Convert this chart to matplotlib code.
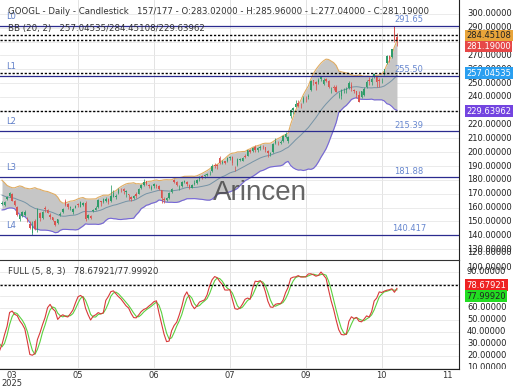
import matplotlib
matplotlib.use("Agg")
import matplotlib.pyplot as plt
import numpy as np

plt.rcParams["font.family"] = ["DejaVu Sans"]

# 预热K线(不显示), 只用来算 BB 和 KD
warm_open = [183.0, 179.5, 178.0, 175.5, 173.0, 168.5, 171.0, 166.0, 171.5, 172.0,
             172.5, 171.5, 165.5, 165.0, 166.5, 163.5, 164.5, 162.8, 161.0]
warm_high = [183.5, 180.8, 178.8, 176.0, 174.0, 171.5, 172.5, 171.5, 174.0, 174.2,
             174.5, 172.3, 167.5, 168.0, 167.3, 166.0, 165.5, 163.5, 165.0]
warm_low = [179.0, 177.6, 174.5, 170.8, 167.9, 167.0, 165.8, 165.5, 170.5, 170.8,
            171.0, 164.6, 163.0, 164.5, 162.4, 163.0, 162.5, 159.8, 160.5]
warm_close = [179.7, 179.3, 175.4, 172.7, 168.5, 170.3, 167.0, 170.9, 173.0, 172.4,
              173.9, 165.9, 164.0, 167.1, 162.8, 165.5, 164.3, 160.7, 163.9]

opens = [162.3, 162.0, 166.0, 168.5, 169.8, 164.5, 160.5, 151.5, 154.0, 154.5,
         152.0, 148.0, 141.5, 150.5, 143.5, 156.0, 152.5, 160.0, 158.5, 154.5,
         153.0, 150.0, 148.5, 154.5, 156.5, 165.0, 162.5, 159.5, 157.0, 160.0,
         162.5, 160.5, 162.0, 163.0, 152.5, 154.0, 157.5, 158.5, 160.5, 164.5,
         164.0, 164.5, 166.0, 164.5, 168.0, 168.0, 170.5, 173.0, 173.5, 171.0,
         169.5, 167.5, 167.0, 170.0, 170.0, 174.0, 176.5, 179.0, 176.0, 173.5,
         175.5, 176.5, 175.5, 172.5, 166.5, 165.5, 167.0, 171.5, 180.2, 178.5,
         175.5, 175.5, 178.5, 178.5, 176.5, 174.5, 177.0, 177.5, 180.5, 183.0,
         182.5, 183.5, 185.0, 186.5, 191.0, 191.0, 195.5, 192.5, 193.5, 193.5,
         195.5, 196.5, 189.5, 190.5, 194.5, 194.0, 197.0, 197.5, 201.5, 201.0,
         204.0, 201.5, 203.0, 204.0, 203.5, 201.0, 199.0, 200.0, 206.5, 207.5,
         206.5, 208.0, 211.0, 208.5, 226.0, 230.5, 233.0, 235.5, 234.5, 236.0,
         239.5, 240.0, 245.0, 252.0, 251.0, 251.0, 253.0, 249.5, 253.0, 251.5,
         245.5, 247.0, 247.5, 242.5, 240.5, 245.5, 245.0, 246.5, 249.0, 245.0,
         244.0, 241.5, 240.0, 241.5, 247.5, 252.0, 250.5, 254.5, 254.5, 252.0,
         252.0, 256.5, 264.5, 269.5, 269.0, 291.0, 283.02]
highs = [164.6, 164.5, 168.5, 171.0, 170.2, 165.8, 161.0, 155.0, 157.8, 158.0,
         153.5, 150.0, 150.5, 151.5, 159.5, 157.0, 157.5, 161.0, 158.9, 156.0,
         153.5, 150.5, 152.0, 157.0, 159.5, 166.0, 163.0, 161.0, 159.5, 162.0,
         163.5, 164.5, 164.0, 164.5, 155.5, 155.0, 159.0, 161.0, 166.0, 165.0,
         167.0, 167.5, 167.0, 176.0, 173.0, 169.8, 174.0, 174.5, 174.0, 172.5,
         170.0, 168.5, 169.0, 171.5, 174.0, 177.0, 181.0, 179.5, 177.0, 176.0,
         177.5, 177.0, 176.0, 173.0, 167.5, 168.0, 171.0, 174.0, 181.0, 179.0,
         176.5, 179.0, 180.0, 179.0, 177.0, 177.0, 180.0, 181.0, 182.5, 183.5,
         184.5, 185.0, 186.5, 191.5, 192.0, 191.5, 197.0, 194.5, 194.0, 196.5,
         197.5, 197.0, 190.0, 195.5, 196.0, 196.5, 198.5, 202.0, 202.5, 204.0,
         205.0, 203.5, 205.0, 205.0, 204.0, 201.5, 200.5, 207.0, 210.0, 208.5,
         209.0, 212.5, 214.5, 211.5, 231.5, 232.5, 238.0, 237.5, 235.5, 240.5,
         240.5, 242.0, 252.0, 252.5, 251.5, 253.5, 255.5, 254.0, 254.0, 252.0,
         247.5, 249.0, 248.5, 243.5, 246.0, 246.5, 247.0, 251.5, 250.5, 246.0,
         244.5, 244.5, 244.5, 247.0, 252.5, 254.5, 254.5, 257.5, 255.0, 253.5,
         253.5, 260.5, 270.0, 270.5, 275.0, 291.65, 285.96]
lows = [161.6, 161.0, 165.3, 168.0, 164.5, 161.5, 153.8, 150.5, 153.5, 154.0,
        149.8, 144.5, 140.5, 143.5, 142.5, 150.0, 151.5, 157.0, 155.8, 152.0,
        150.5, 146.5, 148.0, 154.0, 156.0, 161.5, 158.8, 158.5, 155.5, 159.5,
        160.5, 160.3, 161.0, 150.5, 151.5, 152.0, 156.5, 158.0, 160.0, 161.5,
        163.5, 164.0, 162.5, 164.0, 167.5, 166.0, 170.0, 171.5, 169.5, 167.5,
        165.5, 165.0, 166.5, 167.0, 169.5, 173.5, 175.5, 176.0, 174.5, 172.5,
        174.5, 174.5, 172.5, 163.5, 163.5, 165.0, 166.5, 170.5, 177.5, 175.5,
        173.0, 175.0, 178.0, 175.8, 173.8, 174.0, 176.5, 177.0, 179.5, 181.0,
        181.5, 182.5, 183.5, 186.0, 188.5, 188.0, 191.5, 191.5, 191.5, 193.0,
        194.5, 190.5, 186.8, 190.0, 193.5, 193.5, 195.5, 197.0, 199.5, 200.5,
        200.5, 200.0, 202.0, 202.5, 200.5, 196.8, 197.5, 199.5, 206.0, 205.5,
        206.0, 207.5, 210.5, 206.5, 224.5, 228.0, 232.5, 233.0, 232.0, 235.5,
        236.5, 238.5, 244.5, 249.0, 245.0, 249.5, 251.5, 249.0, 250.5, 246.5,
        242.5, 245.0, 243.5, 239.5, 238.5, 242.5, 243.0, 246.0, 244.0, 243.0,
        239.5, 236.0, 239.5, 240.5, 246.5, 249.0, 248.5, 253.5, 247.0, 247.5,
        250.0, 256.0, 264.0, 265.5, 268.0, 280.0, 277.04]
closes = [163.3, 164.0, 167.7, 170.6, 165.1, 162.2, 154.3, 154.6, 157.1, 157.0,
          150.7, 145.6, 146.8, 144.7, 158.7, 152.8, 157.1, 159.1, 156.3, 153.3,
          151.2, 147.7, 151.5, 155.4, 159.3, 162.0, 160.6, 160.2, 158.8, 161.3,
          162.0, 164.0, 163.2, 151.4, 154.3, 152.8, 158.5, 159.5, 165.4, 164.0,
          166.2, 166.5, 164.0, 168.6, 170.9, 168.5, 172.9, 172.4, 171.9, 171.7,
          169.0, 166.2, 168.1, 168.2, 173.7, 176.1, 178.6, 177.4, 175.7, 174.7,
          176.8, 175.9, 173.3, 166.6, 165.2, 166.8, 170.7, 173.5, 178.5, 176.2,
          175.8, 178.6, 179.5, 176.8, 174.4, 176.6, 177.6, 180.2, 181.6, 182.0,
          183.6, 184.0, 185.1, 190.1, 190.1, 190.2, 192.2, 193.2, 192.6, 195.8,
          196.5, 191.9, 189.1, 195.0, 194.7, 196.1, 196.5, 201.4, 200.3, 203.3,
          202.0, 202.9, 203.9, 203.5, 201.6, 199.3, 199.8, 206.1, 208.5, 207.1,
          207.5, 211.6, 212.9, 211.4, 230.7, 232.3, 235.0, 233.8, 234.0, 239.6,
          239.2, 240.4, 251.6, 251.2, 249.5, 252.3, 254.7, 252.5, 251.7, 247.1,
          245.8, 246.5, 243.6, 243.1, 244.9, 245.7, 245.4, 250.4, 245.8, 244.6,
          241.5, 236.6, 244.2, 245.5, 251.0, 251.5, 253.3, 256.6, 250.5, 251.7,
          252.5, 259.9, 269.3, 267.5, 274.6, 281.5, 281.19]

# 支撑/阻力线
level_names = ["L0", "L1", "L2", "L3", "L4"]
level_values = [291.65, 255.50, 215.39, 181.88, 140.417]
level_texts = ["291.65", "255.50", "215.39", "181.88", "140.417"]

# 当前指标值
bb_mid, bb_up, bb_low = 257.04535, 284.45108, 229.63962
last_close = 281.19
stoch_k_last, stoch_d_last = 78.67921, 77.99920

month_pos = [4, 30, 60, 90, 120, 150, 176]
month_lab = ["03\n2025", "05", "06", "07", "09", "10", "11"]
grid_x = [30, 60, 90, 120, 150]

title = ("GOOGL - Daily - Candlestick   157/177 - O:283.02000 - H:285.96000"
         " - L:277.04000 - C:281.19000")
bb_text = "BB (20, 2)   257.04535/284.45108/229.63962"
kd_text = "FULL (5, 8, 3)   78.67921/77.99920"

# ---------------- 计算 ----------------
hidden = len(warm_close)
o = np.array(warm_open + opens)
h = np.array(warm_high + highs)
l = np.array(warm_low + lows)
c = np.array(warm_close + closes)
n = len(c)
x = np.arange(n) - hidden

mid = np.full(n, np.nan)
up = np.full(n, np.nan)
lo = np.full(n, np.nan)
for i in range(19, n):
    seg = c[i - 19:i + 1]
    mid[i] = seg.mean()
    up[i] = seg.mean() + 2 * seg.std()
    lo[i] = seg.mean() - 2 * seg.std()

raw = np.full(n, np.nan)
for i in range(4, n):
    hh = h[i - 4:i + 1].max()
    ll = l[i - 4:i + 1].min()
    raw[i] = (c[i] - ll) / (hh - ll) * 100
k = np.full(n, np.nan)
for i in range(11, n):
    k[i] = raw[i - 7:i + 1].mean()
d = np.full(n, np.nan)
for i in range(13, n):
    d[i] = k[i - 2:i + 1].mean()

vis = x >= 0

# ---------------- 作图 ----------------
W, H = 520, 390
fig = plt.figure(figsize=(W / 100, H / 100), dpi=100)
ax = fig.add_axes([0, 130 / H, 459 / W, 260 / H])
ax2 = fig.add_axes([0, 21 / H, 459 / W, 109 / H], sharex=ax)
rax = fig.add_axes([459 / W, 130 / H, 61 / W, 260 / H])
rax2 = fig.add_axes([459 / W, 21 / H, 61 / W, 109 / H])

ylim_top = (122.1, 310.1)
ylim_bot = (8.9, 99.75)
ax.set_xlim(-0.79, 180.5)
ax.set_ylim(*ylim_top)
ax2.set_ylim(*ylim_bot)

for a in (ax, ax2):
    for s in ("left", "top", "bottom", "right"):
        a.spines[s].set_visible(False)
    a.spines["right"].set_visible(True)
    a.spines["right"].set_color("#222222")
    a.spines["right"].set_linewidth(0.8)
    a.tick_params(axis="y", left=False, right=False, labelleft=False)
    for gx in grid_x:
        a.axvline(gx, color="#dedede", lw=0.6, zorder=0)
ax2.spines["top"].set_visible(True)
ax2.spines["top"].set_color("#333333")
ax2.spines["top"].set_linewidth(0.8)
ax2.spines["bottom"].set_visible(True)
ax2.spines["bottom"].set_color("#222222")
ax2.spines["bottom"].set_linewidth(0.8)
ax.tick_params(axis="x", bottom=False, labelbottom=False)

for v in range(130, 301, 10):
    ax.axhline(v, color="#e8e8e8", lw=0.6, zorder=0)
for v in range(10, 100, 10):
    ax2.axhline(v, color="#e8e8e8", lw=0.6, zorder=0)

# 布林带
ax.fill_between(x, lo, up, color="#c6c6c6", lw=0, zorder=1)
ax.plot(x, up, color="#e0ac62", lw=0.8, zorder=2)
ax.plot(x, lo, color="#7566d8", lw=0.8, zorder=2)
ax.plot(x, mid, color="#7593a6", lw=0.7, zorder=2)

# K线
green, red = "#2f9c6a", "#d9534f"
cols = [green if cc >= oo else red for oo, cc in zip(o[vis], c[vis])]
ax.vlines(x[vis], l[vis], h[vis], colors=cols, lw=0.55, zorder=3)
body = np.maximum(np.abs(c[vis] - o[vis]), 0.3)
ax.bar(x[vis], body, bottom=np.minimum(o[vis], c[vis]), width=0.6,
       color=cols, lw=0, zorder=3)

# 水平线
for name, val, txt in zip(level_names, level_values, level_texts):
    ax.axhline(val, color="#2b2b8f", lw=0.9, zorder=4)
    ax.annotate(name, xy=(1.6, val), xytext=(0, 6.8), textcoords="offset points",
                ha="left", va="center", fontsize=6, color="#5f7fc8", zorder=5)
    ax.annotate(txt, xy=(160.7, val), xytext=(0, 4.3), textcoords="offset points",
                ha="center", va="center", fontsize=6, color="#6787cf", zorder=5)

dash = (0, (1.6, 1.3))
for v in (bb_up, last_close, bb_mid, bb_low):
    ax.axhline(v, color="black", lw=1.0, ls=dash, zorder=5)

# 随机指标
ax2.plot(x, k, color="#d83a3a", lw=0.8, zorder=3)
ax2.plot(x, d, color="#5ad040", lw=0.8, zorder=2)
ax2.axhline(stoch_k_last, color="black", lw=1.0, ls=dash, zorder=4)

ax2.set_xticks(month_pos)
ax2.set_xticklabels(month_lab, fontsize=6, color="#333333")
ax2.tick_params(axis="x", length=0, pad=1.8)
for lbl in ax2.get_xticklabels():
    lbl.set_linespacing(0.85)

# 右侧刻度
for a, lim in ((rax, ylim_top), (rax2, ylim_bot)):
    a.set_xlim(0, 1)
    a.set_ylim(*lim)
    a.axis("off")
for v in range(130, 301, 10):
    rax.text(0.13, v, f"{v:.5f}", fontsize=6, color="#222222",
             va="center", ha="left", clip_on=True)
rax.text(0.13, 124.3, "120.00000", fontsize=6, color="#222222",
         va="bottom", ha="left", clip_on=True)
for v in range(10, 100, 10):
    rax2.text(0.13, v, f"{v:.5f}", fontsize=6, color="#222222",
              va="center", ha="left", clip_on=True)
rax2.text(0.13, 97.3, "100.00000", fontsize=6, color="#222222",
          va="top", ha="left", clip_on=True)


def tag(a, y, s, fc, tc):
    a.text(0.12, y, s, fontsize=6, color=tc, va="center", ha="left", zorder=5,
           bbox=dict(boxstyle="square,pad=0.17", fc=fc, ec="none"))


box_h = 11 / 1.383
tag(rax, bb_up, f"{bb_up:.5f}", "#e8a43a", "#222222")
tag(rax, min(last_close, bb_up - box_h), f"{last_close:.5f}", "#e64848", "white")
tag(rax, bb_mid, f"{bb_mid:.5f}", "#2a9ff0", "white")
tag(rax, bb_low, f"{bb_low:.5f}", "#7344e0", "white")
tag(rax2, stoch_k_last, f"{stoch_k_last:.5f}", "#ee2222", "white")
tag(rax2, min(stoch_d_last, stoch_k_last - 11 / 1.2), f"{stoch_d_last:.5f}",
    "#22dd22", "#222222")

# 标题与水印
fig.text(8 / W, 1 - 12 / H, title, fontsize=6.2, color="#333333", va="center")
fig.text(8 / W, 1 - 29 / H, bb_text, fontsize=6.2, color="#333333", va="center")
fig.text(8 / W, 1 - 271.5 / H, kd_text, fontsize=6.2, color="#333333", va="center")
fig.text(260 / W, 1 - 193 / H, "Arincen", fontsize=20, family="Liberation Sans",
         color="#4a4a4a", alpha=0.85, ha="center", va="center", zorder=10)

fig.savefig("out.png", dpi=100)
